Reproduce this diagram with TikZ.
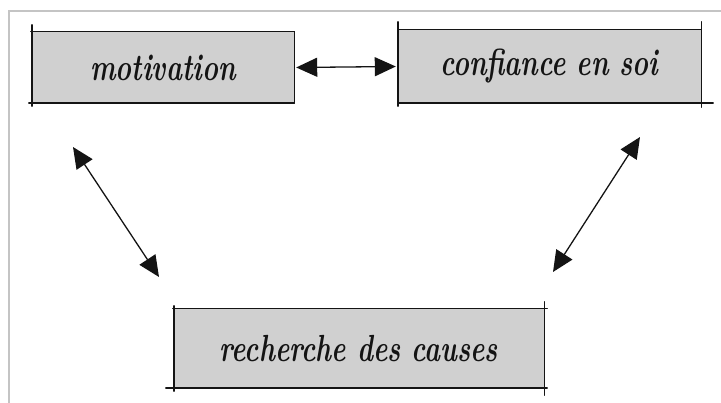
\documentclass[tikz,border=0pt]{standalone}
\usepackage{fontspec}
\usetikzlibrary{arrows.meta,calc}
\newcommand{\hand}[1]{\scalebox{1}[1.4]{#1}}
\tikzset{
  box/.style={fill=boxgray, draw=none, inner sep=0pt, text=ink,
              font=\fontsize{27}{27}\selectfont\bfseries\itshape},
  edge/.style={line width=1.4pt, draw=ink, line cap=round},
  link/.style={line width=1.3pt, draw=ink,
               {Triangle[length=21pt,width=19pt]}-{Triangle[length=21pt,width=19pt]}},
  frame/.style={line width=2.4pt, draw=framegray}
}
\definecolor{boxgray}{RGB}{208,208,208}
\definecolor{ink}{RGB}{20,20,20}
\definecolor{framegray}{RGB}{196,196,196}
\begin{document}
\begin{tikzpicture}[x=1pt,y=-1pt]
  \useasboundingbox (0,0) rectangle (721,403);
  % page frame
  \draw[frame] (9,403) -- (9,11) -- (721,11);

  % boxes
  \node[box, minimum width=262pt, minimum height=71pt] (mot) at (163,67.5) {\hand{motivation}\hspace{6pt}};
  \node[box, minimum width=303pt, minimum height=73pt] (conf) at (549.5,66.5) {\hand{confiance en soi}\hspace{18pt}};
  \node[box, minimum width=370pt, minimum height=79pt] (rech) at (359,348.5) {\hand{recherche des causes}};

  % sketchy outlines with overshooting strokes
  \draw[edge] ([yshift=7pt]mot.north west) -- ([yshift=-3pt]mot.south west);
  \draw[edge] ([xshift=-1pt]mot.north west) -- (mot.north east) -- (mot.south east);
  \draw[edge] ([xshift=-3pt]mot.south west) -- (mot.south east);

  \draw[edge] ([yshift=8pt]conf.north west) -- ([yshift=-3pt]conf.south west);
  \draw[edge] (conf.north west) -- (conf.north east);
  \draw[edge] ([yshift=8pt]conf.north east) -- ([yshift=-4pt]conf.south east);
  \draw[edge] (conf.south west) -- ([xshift=12pt]conf.south east);

  \draw[edge] ([yshift=3pt]rech.north west) -- ([yshift=-3pt]rech.south west);
  \draw[edge] ([xshift=-1pt]rech.north west) -- ([xshift=3pt]rech.north east);
  \draw[edge] ([yshift=7pt]rech.north east) -- ([yshift=-7pt]rech.south east);
  \draw[edge] ([xshift=-8pt]rech.south west) -- ([xshift=3pt]rech.south east);

  % arrow end points
  \coordinate (l1) at (73,147);
  \coordinate (l2) at (159,277);
  \coordinate (r1) at (640,137);
  \coordinate (r2) at (553,272);

  % links
  \draw[link, shorten <=2pt, shorten >=2pt] (mot.east) -- (conf.west);
  \draw[link] (l1) -- (l2);
  \draw[link] (r1) -- (r2);
\end{tikzpicture}
\end{document}
